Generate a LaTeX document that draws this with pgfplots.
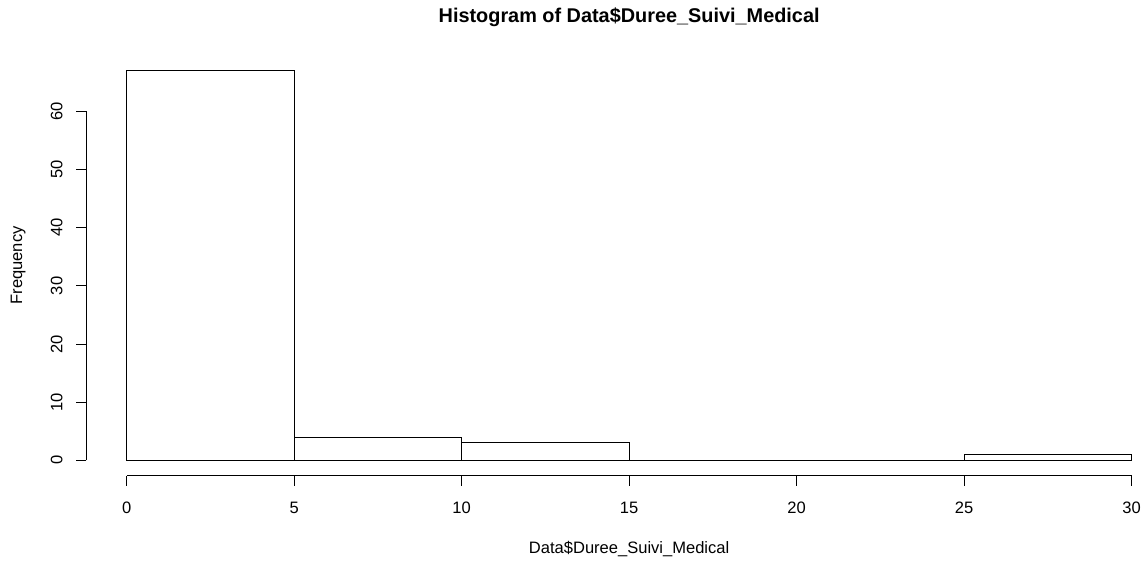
\documentclass[border=0pt]{standalone}
\usepackage{pgfplots}
\pgfplotsset{compat=1.18}
\usepackage{fontspec}
\setmainfont{Liberation Sans}
\begin{document}
\begin{tikzpicture}
\begin{axis}[
  x=25.125pt, y=4.3625pt,
  xmin=-1.2, xmax=31.2, ymin=-2.68, ymax=69.68,
  axis lines=left,
  axis line style={draw=none,-},
  clip=false,
  xtick={0,5,...,30}, ytick={0,10,...,60},
  tick align=outside,
  major tick length=7.5pt,
  tick style={black, line width=0.75pt},
  /pgf/number format/assume math mode=true,
  ticklabel style={font=\fontsize{12.4}{14}\selectfont},
  xticklabel style={anchor=base, yshift=-20.5pt},
  yticklabel style={rotate=90, anchor=base, yshift=10.5pt},
]
\addplot[ybar interval, fill=white, draw=black, line width=0.75pt]
  coordinates {(0,67) (5,4) (10,3) (15,0) (20,0) (25,1) (30,1)};
\addplot[black, line width=0.75pt] coordinates {(0,-2.68) (30,-2.68)};
\addplot[black, line width=0.75pt] coordinates {(-1.2,0) (-1.2,60)};
\node[anchor=base, font=\bfseries\fontsize{14.9}{17}\selectfont] at (axis cs:15,75.2) {Histogram of Data\$Duree\_Suivi\_Medical};
\node[anchor=base, font=\fontsize{12.4}{14}\selectfont] at (axis cs:15,-16.1) {Data\$Duree\_Suivi\_Medical};
\node[anchor=base, rotate=90, font=\fontsize{12.4}{14}\selectfont] at (axis cs:-3.117,33.5) {Frequency};
\coordinate (O) at (axis cs:0,0);
\end{axis}
\pgfresetboundingbox
\path[use as bounding box] (O) ++(-95.0pt,-75.5pt) rectangle ++(860.25pt,420.75pt);
\end{tikzpicture}
\end{document}
